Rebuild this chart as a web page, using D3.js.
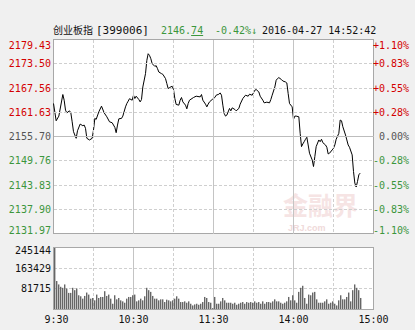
<!DOCTYPE html>
<html>
<head>
<meta charset="utf-8">
<script src="https://cdn.jsdelivr.net/npm/d3@7"></script>
<style>
  body { margin: 0; background: #f0f0f0; }
  svg { display: block; }
</style>
</head>
<body>
<svg id="chart"></svg>
<script>
// Intraday data for 创业板指 (399006), 2016-04-27
const prevClose = 2155.70;
const priceTicks = [2179.43, 2173.50, 2167.56, 2161.63, 2155.70, 2149.76, 2143.83, 2137.90, 2131.97];
const pctTicks = ["+1.10%", "+0.83%", "+0.55%", "+0.28%", "0.00%", "-0.28%", "-0.55%", "-0.83%", "-1.10%"];
const volTicks = [245144, 163429, 81715];
const timeTicks = [0, 30, 60, 90, 120, 150, 180, 210, 240];
const labelMinutes = [0, 60, 120, 180, 240];
const labelTexts = [" 9:30", "10:30", "11:30", "14:00", "15:00"];

// minutes since open (13:00 continues at 120)
const priceMinutes = [
  0, 2, 4, 7, 8, 9, 10, 12, 13, 14, 15, 17, 18, 20, 22, 23, 24, 25, 27, 29,
  30, 31, 32, 34, 36, 38, 40, 42, 44, 46, 47, 48, 49, 51, 52, 54, 55, 56, 57, 59,
  60, 61, 62, 64, 65, 66, 67, 69, 70, 71, 72, 73, 74, 76, 77, 78, 79, 81, 82, 84,
  85, 86, 87, 89, 90, 91, 92, 94, 95, 96, 97, 99, 100, 101, 102, 105, 107, 110, 111, 112,
  114, 115, 116, 117, 119, 120, 121, 122, 124, 125, 126, 127, 128, 129, 130, 132, 133, 134, 136, 137,
  139, 140, 142, 144, 146, 147, 149, 151, 152, 154, 155, 157, 158, 160, 162, 163, 164, 166, 167, 168,
  169, 171, 172, 174, 175, 176, 177, 179, 180, 181, 182, 184, 185, 186, 187, 188, 189, 190, 191, 192,
  194, 195, 196, 197, 199, 200, 201, 202, 204, 205, 206, 207, 209, 210, 211, 212, 214, 215, 216, 217,
  219, 220, 221, 222, 224, 225, 226, 227, 228, 229, 230
];
const priceValues = [
  2163.78, 2159.55, 2160.69, 2165.97, 2164.58, 2162.15, 2161.49, 2161.98, 2161.49, 2159.30,
  2156.87, 2155.26, 2157.11, 2158.74, 2158.33, 2158.50, 2157.70, 2155.26, 2154.85, 2155.26,
  2157.28, 2160.13, 2159.89, 2161.74, 2163.12, 2161.49, 2160.52, 2159.30, 2159.06, 2157.94,
  2156.63, 2158.50, 2160.03, 2160.13, 2160.69, 2162.95, 2163.78, 2164.34, 2164.95, 2164.58,
  2165.80, 2165.00, 2165.56, 2164.75, 2164.17, 2164.75, 2167.82, 2171.08, 2174.32, 2175.95,
  2175.54, 2174.73, 2173.52, 2172.86, 2173.03, 2172.30, 2171.47, 2171.08, 2170.91, 2169.87,
  2168.65, 2167.43, 2167.67, 2167.99, 2167.19, 2165.00, 2163.54, 2163.37, 2164.58, 2165.24,
  2164.17, 2163.37, 2162.47, 2163.78, 2164.58, 2165.24, 2165.56, 2165.39, 2165.97, 2164.58,
  2163.61, 2162.95, 2163.61, 2164.17, 2164.75, 2165.00, 2165.24, 2165.80, 2166.04, 2166.36,
  2165.80, 2163.37, 2161.35, 2160.69, 2160.93, 2162.56, 2161.98, 2162.71, 2162.32, 2161.98,
  2162.56, 2163.61, 2165.00, 2165.80, 2165.56, 2166.04, 2165.80, 2167.02, 2167.19, 2166.60,
  2165.56, 2164.58, 2163.93, 2164.10, 2163.93, 2164.75, 2165.80, 2167.82, 2169.45, 2169.87,
  2170.11, 2169.62, 2169.28, 2169.04, 2168.79, 2166.21, 2163.78, 2162.95, 2159.89, 2160.69,
  2160.69, 2160.52, 2156.48, 2153.22, 2153.88, 2154.43, 2155.02, 2155.51, 2153.63, 2151.61,
  2149.98, 2148.35, 2150.78, 2153.22, 2154.85, 2154.43, 2155.02, 2154.19, 2153.63, 2153.07,
  2151.44, 2151.61, 2152.41, 2152.83, 2153.63, 2155.02, 2156.48, 2159.72, 2159.55, 2158.09,
  2156.07, 2154.85, 2153.63, 2153.07, 2151.20, 2147.13, 2144.31, 2143.34, 2144.70, 2146.33,
  2146.74
];

// volume bars, 160 slots across the session
const volSlots = 160;
const volumes = [
  245144, 112526, 99130, 89753, 85734, 99130, 83055, 65640, 65640, 85734,
  76357, 83055, 56263, 52244, 42867, 53584, 66980, 58942, 42867, 45546,
  36169, 58942, 45546, 49565, 49565, 72338, 53584, 58942, 42867, 22773,
  56263, 40188, 45546, 36169, 32150, 26792, 42867, 49565, 49565, 56263,
  58942, 32150, 36169, 42867, 36169, 52244, 85734, 76357, 69659, 53584,
  42867, 42867, 36169, 40188,
  40188, 29471, 38848, 36169, 32150, 36169, 42867, 52244, 42867, 29471,
  29471, 32150, 26792, 32150, 22773, 16075, 20094, 22773, 18754, 22773,
  29471, 49565, 45546, 29471, 26792, 5358, 49565, 22773, 22773, 32150,
  45546, 36169, 26792, 26792, 26792, 22773, 26792, 18754, 22773, 26792,
  29471, 22773, 29471, 26792, 29471, 26792, 32150, 26792, 29471, 22773,
  32150, 22773, 29471,
  29471, 26792, 32150, 40188, 32150, 32150, 26792, 22773, 26792, 32150,
  49565, 36169, 56263, 36169, 26792, 69659, 85734, 93772, 45546, 22773,
  58942, 56263, 66980, 69659, 40188, 26792, 26792, 26792, 32150, 40188,
  22773, 26792, 32150, 22773, 16075, 36169, 56263, 40188, 40188, 49565,
  66980, 32150, 76357, 99130, 85734, 76357, 45546
];

const W = 415, H = 330;
const left = 53.5, right = 373.5;
const priceTop = 39.5, priceBottom = 233.5;
const volTop = 247.5, volBottom = 309.5;

const monoFont = "'DejaVu Sans Mono', 'Liberation Mono', monospace";
const red = "#d40000", green = "#3c963c", gray = "#555";

const svg = d3.select("#chart").attr("width", W).attr("height", H);

const x = d3.scaleLinear().domain([0, 240]).range([left, right]);
const y = d3.scaleLinear().domain([priceTicks[8], priceTicks[0]]).range([priceBottom, priceTop]);
const slot = d3.scaleLinear().domain([0, volSlots]).range([left, right]);
const yv = d3.scaleLinear().domain([0, volTicks[0]]).range([volBottom, volTop]);

function tickColor(p) {
  if (p > prevClose) return red;
  if (p < prevClose) return green;
  return gray;
}

// ---- title ----
const title = svg.append("g").attr("font-size", 10).attr("font-family", monoFont);
title.append("text").attr("x", 53).attr("y", 34)
  .attr("font-family", "'Noto Sans CJK SC', sans-serif").attr("fill", "#111").text("创业板指");
title.append("text").attr("x", 96).attr("y", 34).attr("font-size", 11).attr("fill", "#111").text("[399006]");
const last = title.append("text").attr("x", 161).attr("y", 34).attr("fill", green);
last.append("tspan").text("2146.");
last.append("tspan").attr("text-decoration", "underline").text("74");
title.append("text").attr("x", 215).attr("y", 34).attr("fill", green).text("-0.42%↓");
title.append("text").attr("x", 262).attr("y", 34).attr("fill", "#111").text("2016-04-27 14:52:42");

// ---- price panel ----
svg.append("rect")
  .attr("x", left).attr("y", priceTop)
  .attr("width", right - left).attr("height", priceBottom - priceTop)
  .attr("fill", "#fff");

// watermark
const wm = svg.append("g").attr("font-family", "'Noto Sans CJK SC', sans-serif");
wm.append("text").attr("x", 283).attr("y", 215).attr("font-size", 25).attr("font-weight", "bold")
  .attr("fill", "#f6e4e4").text("金融界");
wm.append("text").attr("x", 288).attr("y", 231).attr("font-size", 9).attr("font-weight", "bold")
  .attr("font-family", "Arial, sans-serif").attr("fill", "#f0dada").text("JRJ.com");

const grid = svg.append("g").attr("shape-rendering", "crispEdges");

grid.selectAll(".hgrid")
  .data(priceTicks.slice(1, -1))
  .enter().append("line")
  .attr("x1", left).attr("x2", right)
  .attr("y1", (d) => y(d)).attr("y2", (d) => y(d))
  .attr("stroke", (d) => (d === prevClose ? "#bdbdbd" : "#cfcfcf"))
  .attr("stroke-dasharray", (d) => (d === prevClose ? null : "3,2"));

function vGrid(top, bottom) {
  grid.selectAll(null)
    .data(timeTicks.slice(1, -1))
    .enter().append("line")
    .attr("x1", (d) => x(d)).attr("x2", (d) => x(d))
    .attr("y1", top).attr("y2", bottom)
    .attr("stroke", (d) => (d % 60 === 0 ? "#c4c4c4" : "#cfcfcf"))
    .attr("stroke-dasharray", (d) => (d % 60 === 0 ? null : "3,2"));
}
vGrid(priceTop, priceBottom);

svg.append("rect")
  .attr("x", left).attr("y", priceTop)
  .attr("width", right - left).attr("height", priceBottom - priceTop)
  .attr("fill", "none").attr("stroke", "#a8a8a8").attr("shape-rendering", "crispEdges");

const priceData = priceMinutes.map((m, i) => ({ m: m, p: priceValues[i] }));
svg.append("path")
  .datum(priceData)
  .attr("fill", "none")
  .attr("stroke", "#000")
  .attr("stroke-width", 1)
  .attr("d", d3.line().x((d) => x(d.m)).y((d) => y(d.p)));

// left price labels
svg.append("g").selectAll("text")
  .data(priceTicks)
  .enter().append("text")
  .attr("x", 51)
  .attr("y", (d) => Math.min(Math.max(y(d), 45), 230))
  .attr("dy", "0.35em")
  .attr("text-anchor", "end")
  .attr("font-family", monoFont).attr("font-size", 10)
  .attr("fill", (d) => tickColor(d))
  .text((d) => d.toFixed(2));

// right percent labels
svg.append("g").selectAll("text")
  .data(pctTicks)
  .enter().append("text")
  .attr("x", 409)
  .attr("y", (d, i) => Math.min(Math.max(y(priceTicks[i]), 45), 230))
  .attr("dy", "0.35em")
  .attr("text-anchor", "end")
  .attr("font-family", monoFont).attr("font-size", 10)
  .attr("fill", (d, i) => tickColor(priceTicks[i]))
  .text((d) => d);

// ---- volume panel ----
svg.append("rect")
  .attr("x", left).attr("y", volTop)
  .attr("width", right - left).attr("height", volBottom - volTop)
  .attr("fill", "#fff");

grid.raise();
grid.selectAll(".vh")
  .data(volTicks.slice(1))
  .enter().append("line")
  .attr("x1", left).attr("x2", right)
  .attr("y1", (d) => yv(d)).attr("y2", (d) => yv(d))
  .attr("stroke", "#cfcfcf").attr("stroke-dasharray", "3,2");
vGrid(volTop, volBottom);

svg.append("g").selectAll("rect")
  .data(volumes)
  .enter().append("rect")
  .attr("x", (d, i) => slot(i) + 0.5)
  .attr("y", (d) => yv(d))
  .attr("width", 1.4)
  .attr("height", (d) => volBottom - yv(d))
  .attr("fill", "#666");

svg.append("rect")
  .attr("x", left).attr("y", volTop)
  .attr("width", right - left).attr("height", volBottom - volTop)
  .attr("fill", "none").attr("stroke", "#a8a8a8").attr("shape-rendering", "crispEdges");

svg.append("g").selectAll("text")
  .data(volTicks)
  .enter().append("text")
  .attr("x", 51)
  .attr("y", (d) => Math.max(yv(d), 250))
  .attr("dy", "0.35em")
  .attr("text-anchor", "end")
  .attr("font-family", monoFont).attr("font-size", 10)
  .attr("fill", "#111")
  .text((d) => d);

// time labels
svg.append("g").selectAll("text")
  .data(labelMinutes)
  .enter().append("text")
  .attr("x", (d) => x(d))
  .attr("y", 319)
  .attr("dy", "0.35em")
  .attr("text-anchor", "middle")
  .attr("font-family", monoFont).attr("font-size", 10)
  .attr("fill", "#111")
  .style("white-space", "pre")
  .text((d, i) => labelTexts[i]);
</script>
</body>
</html>
